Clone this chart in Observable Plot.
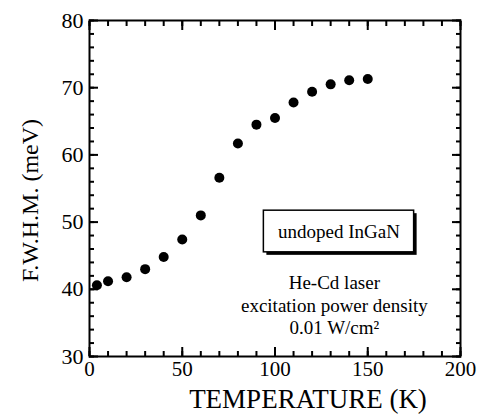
<!DOCTYPE html>
<html>
<head>
<meta charset="utf-8">
<script src="https://cdn.jsdelivr.net/npm/d3@7"></script>
<script src="https://cdn.jsdelivr.net/npm/@observablehq/plot@0.6"></script>
<style>
  html, body { margin: 0; padding: 0; background: #fff; }
</style>
</head>
<body>
<div id="chart"></div>
<script>
const temperature = [4, 10, 20, 30, 40, 50, 60, 70, 80, 90, 100, 110, 120, 130, 140, 150];
const fwhm = [40.6, 41.2, 41.8, 43.0, 44.8, 47.4, 51.0, 56.6, 61.7, 64.5, 65.5, 67.8, 69.4, 70.5, 71.1, 71.3];
const xMajor = [0, 50, 100, 150, 200];
const xMinor = d3.range(0, 201, 10);
const yMajor = [30, 40, 50, 60, 70, 80];
const yMinor = d3.range(30, 81, 2);
const xLabel = "TEMPERATURE (K)";
const yLabel = "F.W.H.M. (meV)";
const boxText = ["undoped InGaN"];
const boxRange = [{x1: 94, x2: 175, y1: 45.5, y2: 51.7}];
const notes = [
  {t: 132, v: 40.9, s: "He-Cd laser"},
  {t: 132, v: 37.5, s: "excitation power density"},
  {t: 132, v: 34.2, s: "0.01 W/cm²"}
];

const data = temperature.map((t, i) => ({t, v: fwhm[i]}));
const font = "'Liberation Serif', 'Times New Roman', serif";

const chart = Plot.plot({
  width: 488,
  height: 416,
  marginLeft: 89,
  marginRight: 28,
  marginTop: 20,
  marginBottom: 60,
  style: {fontFamily: font, color: "black", background: "white"},
  x: {domain: [0, 200]},
  y: {domain: [30, 80]},
  marks: [
    // ticks (inward)
    Plot.axisX({anchor: "bottom", ticks: xMinor, tickSize: -5, text: null, label: null, strokeWidth: 2}),
    Plot.axisX({anchor: "bottom", ticks: xMajor, tickSize: -9, text: null, label: null, strokeWidth: 2}),
    Plot.axisX({anchor: "top", ticks: xMinor, tickSize: -5, text: null, label: null, strokeWidth: 2}),
    Plot.axisX({anchor: "top", ticks: xMajor, tickSize: -9, text: null, label: null, strokeWidth: 2}),
    Plot.axisY({anchor: "left", ticks: yMinor, tickSize: -5, text: null, label: null, strokeWidth: 2}),
    Plot.axisY({anchor: "left", ticks: yMajor, tickSize: -9, text: null, label: null, strokeWidth: 2}),
    Plot.axisY({anchor: "right", ticks: yMinor, tickSize: -5, text: null, label: null, strokeWidth: 2}),
    Plot.axisY({anchor: "right", ticks: yMajor, tickSize: -9, text: null, label: null, strokeWidth: 2}),
    // tick labels
    Plot.axisX({anchor: "bottom", ticks: xMajor, tickSize: 0, tickPadding: 5, label: null, fontSize: 21, fontFamily: font, tickFormat: d => String(d)}),
    Plot.axisY({anchor: "left", ticks: yMajor, tickSize: 0, tickPadding: 6, label: null, fontSize: 22, fontFamily: font, tickFormat: d => String(d)}),
    Plot.frame({stroke: "black", strokeWidth: 2}),
    // axis titles
    Plot.text([xLabel], {frameAnchor: "bottom", text: d => d, dx: 33, dy: 43, fontSize: 27, fontFamily: font, lineAnchor: "middle", fill: "black"}),
    Plot.text([yLabel], {frameAnchor: "left", text: d => d, rotate: -90, dx: -59, dy: 12, fontSize: 24, fontFamily: font, lineAnchor: "middle", textAnchor: "middle", fill: "black"}),
    // data
    Plot.dot(data, {x: "t", y: "v", r: 5, fill: "black", stroke: "none"}),
    // annotation box
    Plot.rect(boxRange, {x1: "x1", x2: "x2", y1: "y1", y2: "y2", fill: "black", dx: 3, dy: 3}),
    Plot.rect(boxRange, {x1: "x1", x2: "x2", y1: "y1", y2: "y2", fill: "white", stroke: "black", strokeWidth: 1.5}),
    Plot.text(boxText, {x: () => 134.5, y: () => 48.6, text: d => d, fontSize: 19, fontFamily: font, fill: "black"}),
    Plot.text(notes, {x: "t", y: "v", text: "s", fontSize: 19, fontFamily: font, fill: "black"})
  ]
});
document.getElementById("chart").appendChild(chart);
</script>
</body>
</html>
